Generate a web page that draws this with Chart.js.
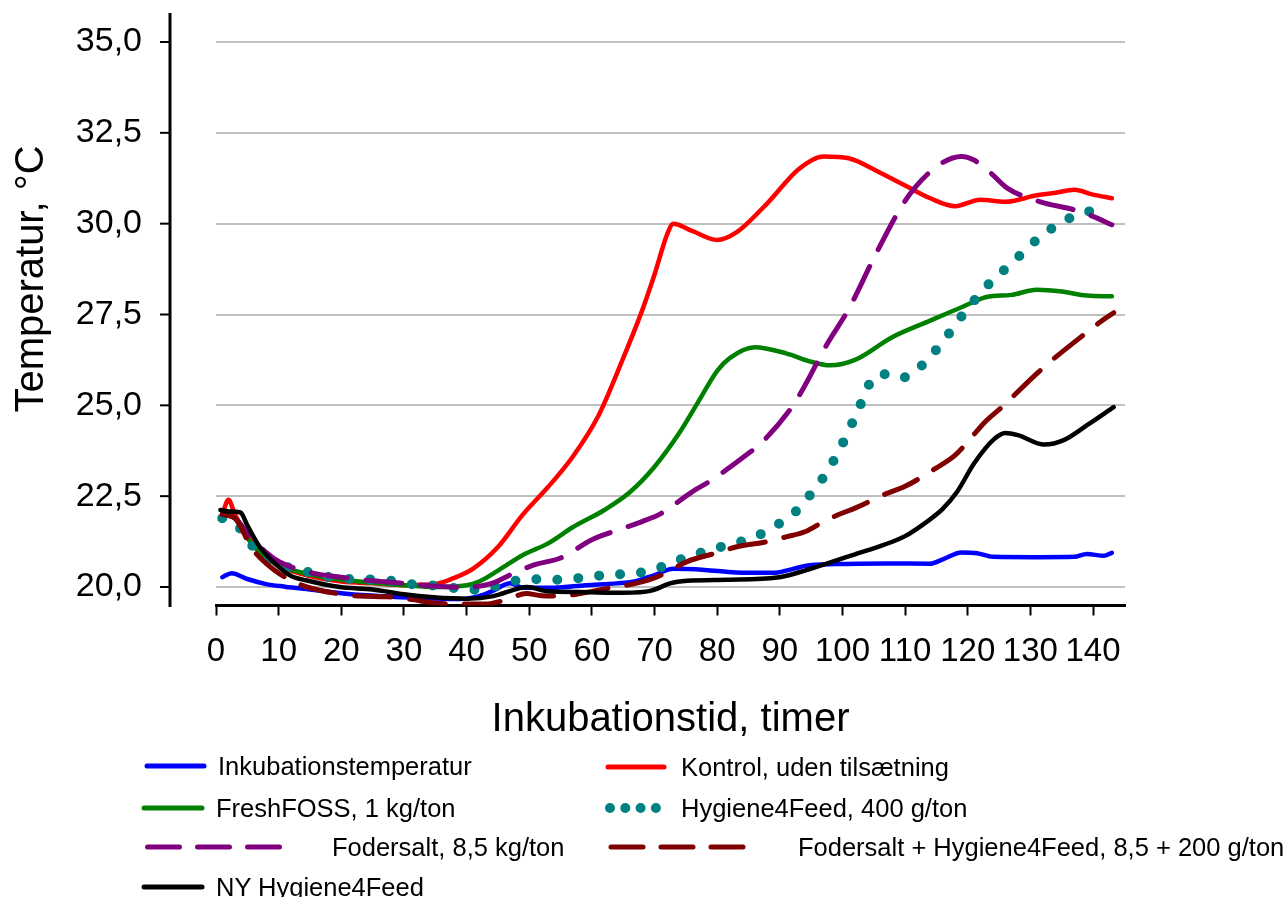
<!DOCTYPE html>
<html>
<head>
<meta charset="utf-8">
<script src="https://cdn.jsdelivr.net/npm/chart.js@4/dist/chart.umd.min.js"></script>
<style>
  body { margin: 0; background: #fff; font-family: "Liberation Sans", Arial, sans-serif; }
  #wrap { position: relative; width: 1285px; height: 897px; overflow: hidden; }
  #chart { position: absolute; left: 0; top: 0; }
  #ytitle {
    position: absolute; left: 28.5px; top: 278.5px;
    transform: translate(-50%, -50%) rotate(-90deg);
    font-size: 40px; line-height: 40px; white-space: nowrap; color: #000;
  }
  #legendSvg { position: absolute; left: 0; top: 0; }
  .leg { position: absolute; font-size: 25.5px; line-height: 30px; white-space: nowrap; color: #000; }
</style>
</head>
<body>
<div id="wrap">
  <canvas id="chart" width="1285" height="897"></canvas>
  <div id="ytitle">Temperatur, °C</div>
  <svg id="legendSvg" width="1285" height="897"></svg>
</div>
<script>
// tider (timer) og temperaturer (°C)
const blueT = [1, 2.5, 5, 8, 11, 15, 20, 24, 28, 34, 39, 42, 44, 47, 49, 54, 59, 64, 67, 70, 73, 78, 83, 89, 91, 94, 99, 107, 114, 116, 119, 121.5, 124, 131, 137, 139, 141.7, 143];
const blueV = [20.27, 20.38, 20.22, 20.08, 20.01, 19.93, 19.83, 19.77, 19.73, 19.69, 19.67, 19.75, 19.88, 20.1, 19.98, 19.98, 20.05, 20.1, 20.16, 20.33, 20.5, 20.47, 20.4, 20.39, 20.45, 20.58, 20.63, 20.65, 20.64, 20.76, 20.95, 20.93, 20.83, 20.82, 20.83, 20.91, 20.86, 20.94];

const redT = [1, 2, 3, 5, 7, 10, 15, 20, 25, 30, 35, 38, 41, 45, 49, 53, 57, 61, 65, 68, 70, 72, 73, 76, 80, 83, 88, 93, 97, 101, 106, 110, 114, 118, 122, 126, 131, 134, 137, 140, 143];
const redV = [22.0, 22.4, 22.0, 21.4, 21.0, 20.6, 20.3, 20.15, 20.1, 20.05, 20.08, 20.25, 20.5, 21.1, 22.0, 22.75, 23.6, 24.7, 26.3, 27.6, 28.6, 29.7, 30.0, 29.8, 29.55, 29.75, 30.56, 31.5, 31.85, 31.8, 31.4, 31.05, 30.7, 30.48, 30.66, 30.6, 30.78, 30.85, 30.93, 30.8, 30.7];

const greenT = [1, 3, 5, 7, 10, 15, 20, 25, 30, 35, 40, 42, 45, 49, 53, 57, 62, 66, 70, 74, 77, 80, 82, 86, 91, 95, 98, 102, 108, 114, 119, 123, 127, 131, 135, 139, 143];
const greenV = [22.0, 21.9, 21.35, 20.95, 20.6, 20.35, 20.2, 20.12, 20.05, 20.0, 20.05, 20.15, 20.45, 20.88, 21.2, 21.65, 22.12, 22.6, 23.31, 24.25, 25.1, 25.95, 26.3, 26.6, 26.43, 26.2, 26.1, 26.25, 26.88, 27.33, 27.7, 27.98, 28.04, 28.18, 28.13, 28.02, 28.0];

const tealT = [1, 3.4, 5.2, 8, 10.3, 13, 15.3, 17.7, 20, 22.5, 25, 28, 30, 32.6, 35.3, 37.7, 40.3, 42.7, 45.4, 47.8, 50.2, 53, 55.3, 57.6, 60.3, 62.7, 65.3, 67.8, 70.4, 72.8, 75.2, 77.9, 80.3, 82.7, 85.4, 87.7, 90.4, 92.8, 94.9, 96.8, 98.4, 99.7, 101, 102.1, 103.2, 104.2, 106.1, 108.5, 111, 113.5, 115.6, 117.5, 119.4, 121.4, 123.6, 126.1, 128.6, 131.1, 133.6, 136.2, 138.7, 141.1, 142.5];
const tealV = [21.89, 21.7, 21.25, 20.8, 20.6, 20.49, 20.38, 20.28, 20.24, 20.21, 20.21, 20.17, 20.1, 20.06, 20.03, 19.98, 19.92, 19.95, 20.06, 20.17, 20.22, 20.19, 20.21, 20.24, 20.3, 20.33, 20.36, 20.4, 20.51, 20.66, 20.83, 20.97, 21.09, 21.2, 21.34, 21.52, 21.8, 22.12, 22.55, 22.98, 23.42, 23.84, 24.3, 24.72, 25.15, 25.56, 25.88, 25.75, 25.84, 26.25, 26.66, 27.09, 27.54, 27.96, 28.38, 28.77, 29.17, 29.57, 29.89, 30.15, 30.31, 30.4, 30.5];

const purpleT = [1, 3, 5, 8, 10, 15, 20, 25, 30, 35, 40, 44, 47.5, 51, 55, 60, 63, 68, 71, 76, 79, 84, 87, 91.5, 93.3, 97.6, 101, 105, 109, 111.5, 115.7, 119, 121, 123.7, 126.3, 131.6, 137, 140, 143];
const purpleV = [22.0, 21.9, 21.5, 20.95, 20.7, 20.4, 20.27, 20.17, 20.1, 20.02, 19.99, 20.1, 20.38, 20.62, 20.8, 21.3, 21.5, 21.8, 22.02, 22.62, 22.93, 23.55, 23.96, 24.85, 25.33, 26.7, 27.65, 29.05, 30.35, 30.98, 31.65, 31.85, 31.75, 31.39, 30.98, 30.6, 30.38, 30.2, 29.97];

const darkRedT = [1, 3, 5, 6.5, 8, 10, 12, 14.5, 19.3, 23, 27.3, 31, 35, 38.5, 43, 46.5, 49.5, 52, 55, 59, 62.4, 67, 70.4, 73, 75.2, 79.5, 83, 88, 91, 94, 97, 99.2, 102, 107, 110, 115, 118, 120, 122.8, 125.5, 130.8, 133.5, 138.8, 141.2, 143.3];
const darkRedV = [22.0, 21.9, 21.3, 20.9, 20.65, 20.38, 20.18, 20.0, 19.82, 19.75, 19.73, 19.66, 19.56, 19.53, 19.53, 19.66, 19.82, 19.76, 19.75, 19.85, 19.96, 20.1, 20.28, 20.5, 20.7, 20.92, 21.1, 21.25, 21.38, 21.52, 21.8, 21.98, 22.17, 22.57, 22.77, 23.28, 23.63, 24.0, 24.55, 24.96, 25.84, 26.25, 26.98, 27.3, 27.55];

const blackT = [0.7, 2, 3.9, 5, 7, 9.7, 12, 14.5, 19.8, 25, 30, 34.7, 40, 44.3, 48.1, 49.7, 52.9, 58, 65, 69.5, 72.5, 75.2, 81.6, 89.6, 93.4, 97.6, 102, 106.6, 110, 113.5, 116, 118.3, 121, 124.2, 126, 128, 132.2, 135.4, 139.1, 143.3];
const blackV = [22.12, 22.08, 22.05, 21.7, 21.1, 20.6, 20.3, 20.18, 20.0, 19.93, 19.8, 19.72, 19.68, 19.75, 19.95, 20.0, 19.88, 19.86, 19.84, 19.9, 20.1, 20.17, 20.2, 20.26, 20.42, 20.65, 20.9, 21.16, 21.4, 21.8, 22.15, 22.62, 23.4, 24.07, 24.24, 24.18, 23.92, 24.05, 24.46, 24.95];

const seriesNames = [
  'Inkubationstemperatur',
  'Kontrol, uden tilsætning',
  'FreshFOSS, 1 kg/ton',
  'Hygiene4Feed, 400 g/ton',
  'Fodersalt, 8,5 kg/ton',
  'Fodersalt + Hygiene4Feed, 8,5 + 200 g/ton',
  'NY Hygiene4Feed'
];

const yTickValues = [20, 22.5, 25, 27.5, 30, 32.5, 35];

const FONT = '"Liberation Sans", Arial, sans-serif';

function pts(t, v) {
  return t.map((x, i) => ({ x: x, y: v[i] }));
}

function line(label, t, v, color, order, extra) {
  return Object.assign({
    label: label,
    data: pts(t, v),
    borderColor: color,
    backgroundColor: color,
    borderWidth: 4.5,
    pointRadius: 0,
    cubicInterpolationMode: 'monotone',
    borderCapStyle: 'round',
    borderJoinStyle: 'round',
    fill: false,
    order: order
  }, extra || {});
}

const datasets = [
  line(seriesNames[0], blueT, blueV, '#0000ff', 7),
  line(seriesNames[1], redT, redV, '#ff0000', 6),
  line(seriesNames[2], greenT, greenV, '#008000', 5),
  line(seriesNames[3], tealT, tealV, '#008080', 4, { borderWidth: 10, borderDash: [0, 21] }),
  line(seriesNames[4], purpleT, purpleV, '#800080', 3, { borderWidth: 5, borderDash: [36, 19] }),
  line(seriesNames[5], darkRedT, darkRedV, '#800000', 2, { borderWidth: 5, borderDash: [36, 19] }),
  line(seriesNames[6], blackT, blackV, '#000000', 1)
];

// lodret akse tegnes lidt til venstre for plotområdet, som i originalen
const yAxisLine = {
  id: 'yAxisLine',
  afterDraw(chart) {
    const { ctx, chartArea } = chart;
    const y = chart.scales.y;
    const ax = chartArea.left - 46;
    ctx.save();
    ctx.strokeStyle = '#000';
    ctx.lineWidth = 3;
    ctx.beginPath();
    ctx.moveTo(ax, chartArea.top);
    ctx.lineTo(ax, chartArea.bottom + 1.5);
    ctx.stroke();
    ctx.lineWidth = 2;
    y.ticks.forEach(t => {
      const py = y.getPixelForValue(t.value);
      ctx.beginPath();
      ctx.moveTo(ax - 10, py);
      ctx.lineTo(ax, py);
      ctx.stroke();
    });
    ctx.restore();
  }
};

new Chart(document.getElementById('chart'), {
  type: 'line',
  data: { datasets: datasets },
  options: {
    responsive: false,
    animation: false,
    devicePixelRatio: 1,
    layout: { padding: { top: 13, right: 160, left: 0, bottom: 0 } },
    plugins: {
      legend: { display: false },
      tooltip: { enabled: false }
    },
    scales: {
      x: {
        type: 'linear',
        min: 0,
        max: 145.1,
        afterFit: s => { s.height = 897 - 605.5; },
        ticks: {
          stepSize: 10,
          includeBounds: false,
          autoSkip: false,
          maxRotation: 0,
          padding: 17,
          color: '#000',
          font: { family: FONT, size: 33 },
          callback: v => String(v)
        },
        grid: { drawOnChartArea: false, drawTicks: true, tickLength: 10, tickWidth: 2, tickColor: '#000' },
        border: { display: true, color: '#000', width: 3 },
        title: {
          display: true,
          text: 'Inkubationstid, timer',
          color: '#000',
          font: { family: FONT, size: 40 },
          padding: { top: 0, bottom: 153 }
        }
      },
      y: {
        type: 'linear',
        min: 19.491,
        max: 35.798,
        afterFit: s => { s.width = 216; s.paddingTop = 0; s.paddingBottom = 0; },
        afterBuildTicks: s => { s.ticks = yTickValues.map(v => ({ value: v })); },
        ticks: {
          padding: 74,
          color: '#000',
          font: { family: FONT, size: 34 },
          callback: v => Number(v).toFixed(1).replace('.', ',')
        },
        grid: { color: '#c0c0c0', lineWidth: 2, drawTicks: false },
        border: { display: false }
      }
    }
  },
  plugins: [yAxisLine]
});

// forklaring under figuren
const legendColors = ['#0000ff', '#ff0000', '#008000', '#008080', '#800080', '#800000', '#000000'];
const legendStyle = ['solid', 'solid', 'solid', 'dot', 'dash', 'dash', 'solid'];
const legendLayout = [
  { x1: 147, x2: 204, tx: 218, y: 766 },
  { x1: 608, x2: 664, tx: 681, y: 767 },
  { x1: 144, x2: 202, tx: 216, y: 808 },
  { x1: 610, x2: 656, tx: 681, y: 808 },
  { x1: 147.5, x2: 279.5, tx: 332, y: 847 },
  { x1: 611, x2: 743, tx: 798, y: 847 },
  { x1: 144, x2: 202, tx: 216, y: 887 }
];

const svg = document.getElementById('legendSvg');
const wrap = document.getElementById('wrap');
seriesNames.forEach((name, i) => {
  const L = legendLayout[i];
  const ln = document.createElementNS('http://www.w3.org/2000/svg', 'line');
  ln.setAttribute('x1', L.x1);
  ln.setAttribute('x2', L.x2);
  ln.setAttribute('y1', L.y);
  ln.setAttribute('y2', L.y);
  ln.setAttribute('stroke', legendColors[i]);
  ln.setAttribute('stroke-linecap', 'round');
  if (legendStyle[i] === 'dot') {
    ln.setAttribute('stroke-width', 10);
    ln.setAttribute('stroke-dasharray', '0 15.3');
  } else if (legendStyle[i] === 'dash') {
    ln.setAttribute('stroke-width', 5);
    ln.setAttribute('stroke-dasharray', '32 18');
  } else {
    ln.setAttribute('stroke-width', 5);
  }
  svg.appendChild(ln);

  const d = document.createElement('div');
  d.className = 'leg';
  d.style.left = L.tx + 'px';
  d.style.top = (L.y - 15) + 'px';
  d.textContent = name;
  wrap.appendChild(d);
});
</script>
</body>
</html>
